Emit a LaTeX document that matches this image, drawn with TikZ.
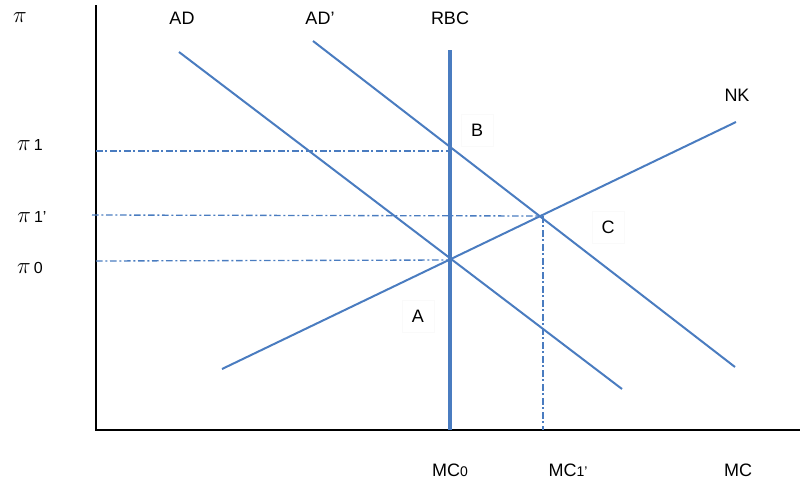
\documentclass[tikz,border=0pt]{standalone}
\usepackage{fontspec}
\setmainfont{Liberation Sans}
\usetikzlibrary{positioning, calc}
\definecolor{curveblue}{RGB}{74,124,192}
\newcommand{\bigpi}{{\fontsize{16}{16}\selectfont$\pi$}}

\begin{document}
\begin{tikzpicture}[x=0.75pt, y=-0.75pt,
  curve/.style={draw=curveblue, line width=1.5pt},
  guide/.style={draw=curveblue, line width=1pt, dash pattern=on 5pt off 2pt on 1.5pt off 2pt},
  axis/.style={draw=black, line width=1.5pt},
  lbl/.style={font=\fontsize{13.5}{15}\selectfont, inner sep=1pt},
  pt/.style={font=\fontsize{13.5}{15}\selectfont, fill=white, draw=black!2, minimum width=24pt, minimum height=24pt}]
  \useasboundingbox (0,0) rectangle (801,483);

  % axes
  \coordinate (O) at (96,430);
  \coordinate (ytop) at (96,5);
  \coordinate (xend) at (800,430);
  \draw[axis] (ytop) -- (O) -- (xend);

  % equilibrium points
  \coordinate (ptA) at (450,260);
  \coordinate (ptB) at (450,151);
  \coordinate (ptC) at (541,216);

  % curves
  \coordinate (rbcTop) at (450,50);
  \coordinate (rbcBot) at (450,430);
  \coordinate (adTop) at (179,52);
  \coordinate (adBot) at (622,389);
  \coordinate (adpTop) at (313,41);
  \coordinate (adpBot) at (735,367);
  \coordinate (nkLeft) at (222,369);
  \coordinate (nkRight) at (736,122);
  \draw[curve] (adTop) -- (adBot);
  \draw[curve] (adpTop) -- (adpBot);
  \draw[curve] (nkLeft) -- (nkRight);
  \draw[curve, line width=2.3pt] (rbcBot) -- (rbcTop);

  % guide lines
  \coordinate (g1) at (96,151);
  \coordinate (g1p) at (92,215);
  \coordinate (g0) at (96,261);
  \coordinate (mc1p) at (543,430);
  \draw[guide] (g1) -- (ptB);
  \draw[guide] (g1p) -- (ptC);
  \draw[guide] (g0) -- (ptA);
  \draw[guide] (ptC -| mc1p) -- (mc1p);

  % labels
  \node[lbl] (piLbl) at (20,18) {\bigpi};
  \node[lbl] (pi1Lbl) at (30,145) {\bigpi\,{\fontsize{12}{12}\selectfont 1}};
  \node[lbl] (pi1pLbl) at (32,217) {\bigpi\,{\fontsize{12}{12}\selectfont 1'}};
  \node[lbl] (pi0Lbl) at (30,268) {\bigpi\,{\fontsize{12}{12}\selectfont 0}};
  \node[lbl] (adLbl) at (182,18) {AD};
  \node[lbl] (adpLbl) at (320,18) {AD'};
  \node[lbl] (rbcLbl) at (450,18) {RBC};
  \node[lbl] (nkLbl) at (737,95) {NK};
  \node[lbl] (mc0Lbl) at (450,470) {MC{\fontsize{10.5}{12}\selectfont 0}};
  \node[lbl] (mc1pLbl) at (568,470) {MC{\fontsize{10.5}{12}\selectfont 1'}};
  \node[lbl] (mcLbl) at (738,470) {MC};
  \node[pt] (bLbl) at (477,130) {B};
  \node[pt] (cLbl) at (608,227) {C};
  \node[pt] (aLbl) at (418,316) {A};
\end{tikzpicture}
\end{document}
